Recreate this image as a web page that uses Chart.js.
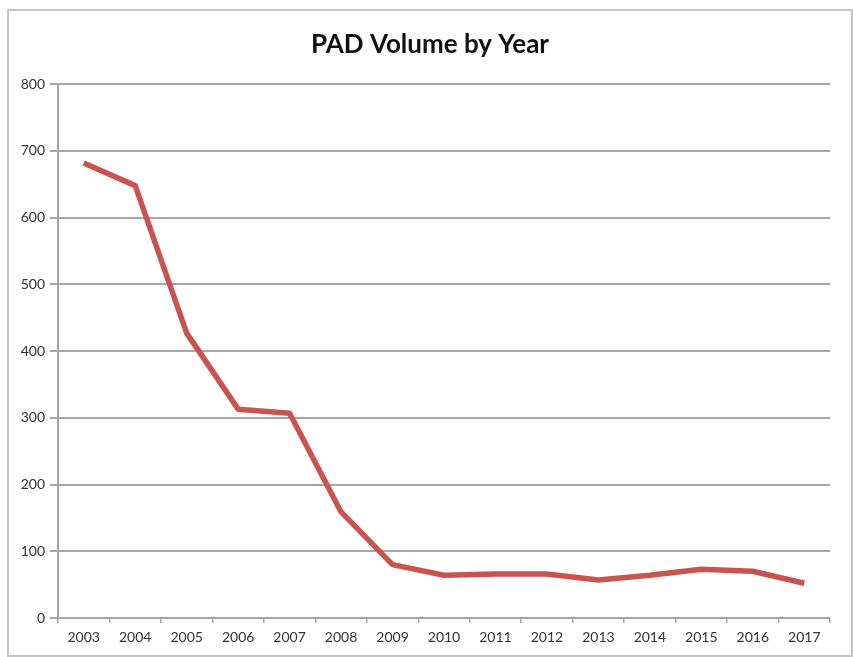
<!DOCTYPE html>
<html>
<head>
<meta charset="utf-8">
<script src="https://cdn.jsdelivr.net/npm/chart.js@4/dist/chart.umd.min.js"></script>
<style>
  body { margin: 0; background: #fff; }
  #box {
    position: absolute; left: 7px; top: 9px;
    width: 842px; height: 644px;
    border: 2px solid #c4c4c4;
  }
</style>
</head>
<body>
<div id="box"><canvas id="padChart" width="842" height="644"></canvas></div>
<script>
// ---- data ----
const years = ['2003', '2004', '2005', '2006', '2007', '2008', '2009', '2010',
               '2011', '2012', '2013', '2014', '2015', '2016', '2017'];
const padVolume = [682, 648, 427, 313, 307, 159, 80, 64, 66, 66, 57, 64, 73, 70, 52];
const yTicks = [0, 100, 200, 300, 400, 500, 600, 700, 800];

const axisGray = '#a6a6a6';
const labelFont = { family: 'Lato, "Open Sans", sans-serif', size: 14 };

new Chart(document.getElementById('padChart'), {
    type: 'line',
    data: {
        labels: years,
        datasets: [{
            label: 'PAD Volume',
            data: padVolume,
            borderColor: '#c9534f',
            borderWidth: 5.5,
            pointRadius: 0,
            tension: 0,
            borderJoinStyle: 'round',
            borderCapStyle: 'butt'
        }]
    },
    options: {
        responsive: false,
        animation: false,
        plugins: {
            legend: { display: false },
            tooltip: { enabled: false },
            title: {
                display: true,
                text: 'PAD Volume by Year',
                color: '#111',
                font: { family: 'Lato, "Open Sans", sans-serif', size: 26, weight: 'bold', lineHeight: 1.2 },
                padding: { top: 18, bottom: 24 }
            }
        },
        scales: {
            x: {
                offset: true,
                grid: {
                    offset: true,
                    drawOnChartArea: false,
                    drawTicks: true,
                    tickLength: 5,
                    color: axisGray,
                    lineWidth: 1.5
                },
                border: { display: true, color: axisGray, width: 2 },
                ticks: { color: '#333', font: labelFont, padding: 6, maxRotation: 0, autoSkip: false },
                afterFit: s => { s.height = 37; }
            },
            y: {
                min: 0,
                max: 800,
                afterBuildTicks: s => { s.ticks = yTicks.map(v => ({ value: v })); },
                grid: {
                    color: axisGray,
                    lineWidth: 2,
                    drawTicks: true,
                    tickLength: 8
                },
                border: { display: true, color: axisGray, width: 2 },
                ticks: { color: '#333', font: labelFont, padding: 5 },
                afterFit: s => { s.width = 49; }
            },
            // empty right-hand spacer so the title stays centred on the whole frame
            spacer: {
                type: 'linear',
                position: 'right',
                display: true,
                grid: { display: false },
                border: { display: false },
                ticks: { display: false },
                afterFit: s => { s.width = 21; }
            }
        }
    }
});
</script>
</body>
</html>
